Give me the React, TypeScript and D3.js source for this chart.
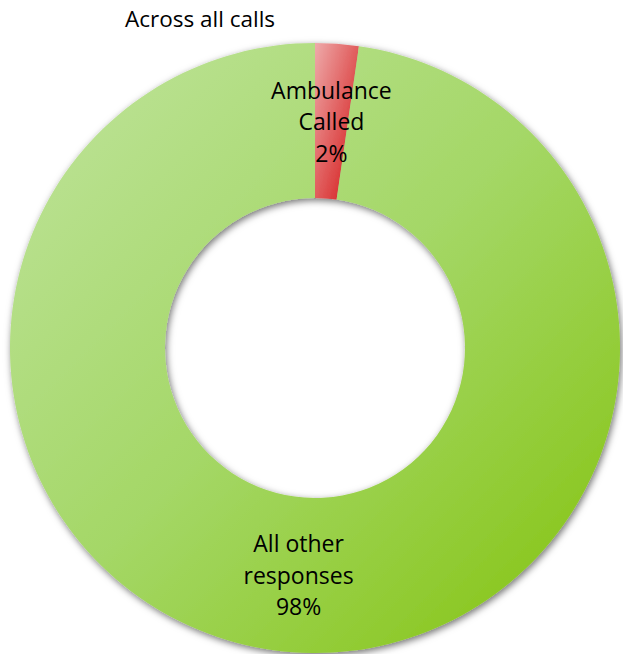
import React from "react";
import * as d3 from "d3";

const categories = ["Ambulance\nCalled", "All other\nresponses"];
const values = [2.3, 97.7];
const percentLabels = ["2%", "98%"];
const title = "Across all calls";

const W = 623;
const H = 654;
const cx = 315;
const cy = 348;
const outerR = 305;
const innerR = 150;

export default function App() {
  const pie = d3.pie<number>().sort(null).startAngle(0).endAngle(2 * Math.PI);
  const arcs = pie(values);
  const arcGen = d3.arc<d3.PieArcDatum<number>>().innerRadius(innerR).outerRadius(outerR);
  const fills = ["url(#gradRed)", "url(#gradGreen)"];
  const font = "'Open Sans', 'Liberation Sans', sans-serif";
  return (
    <svg width={W} height={H} style={{ position: "absolute", left: 0, top: 0 }} fontFamily={font}>
      <defs>
        <linearGradient id="gradGreen" x1="0" y1="0" x2="1" y2="1">
          <stop offset="0" stopColor="#c0e49e" />
          <stop offset="0.5" stopColor="#a4d766" />
          <stop offset="1" stopColor="#82c20a" />
        </linearGradient>
        <linearGradient id="gradRed" x1="0" y1="0" x2="1" y2="1">
          <stop offset="0" stopColor="#eeaaaa" />
          <stop offset="1" stopColor="#d31010" />
        </linearGradient>
        <filter id="shadow" x="-10%" y="-10%" width="120%" height="120%">
          <feDropShadow dx="1.5" dy="2.5" stdDeviation="3.5" floodColor="#000" floodOpacity="0.55" />
        </filter>
      </defs>
      <text x={200} y={27} textAnchor="middle" fontSize={22.5} fill="#000">{title}</text>
      <g transform={`translate(${cx},${cy})`}>
        <g filter="url(#shadow)">
          {arcs.map((a, i) => (
            <path key={i} d={arcGen(a) || ""} fill={fills[i]} />
          ))}
        </g>
        {arcs.map((a, i) => {
          const [x, y] = arcGen.centroid(a);
          const lines = [...categories[i].split("\n"), percentLabels[i]];
          const lh = 31.5;
          return (
            <text key={"t" + i} textAnchor="middle" fontSize={23} fill="#000">
              {lines.map((l, j) => (
                <tspan key={j} x={x} y={y + (j - 1) * lh + 9}>{l}</tspan>
              ))}
            </text>
          );
        })}
      </g>
    </svg>
  );
}
